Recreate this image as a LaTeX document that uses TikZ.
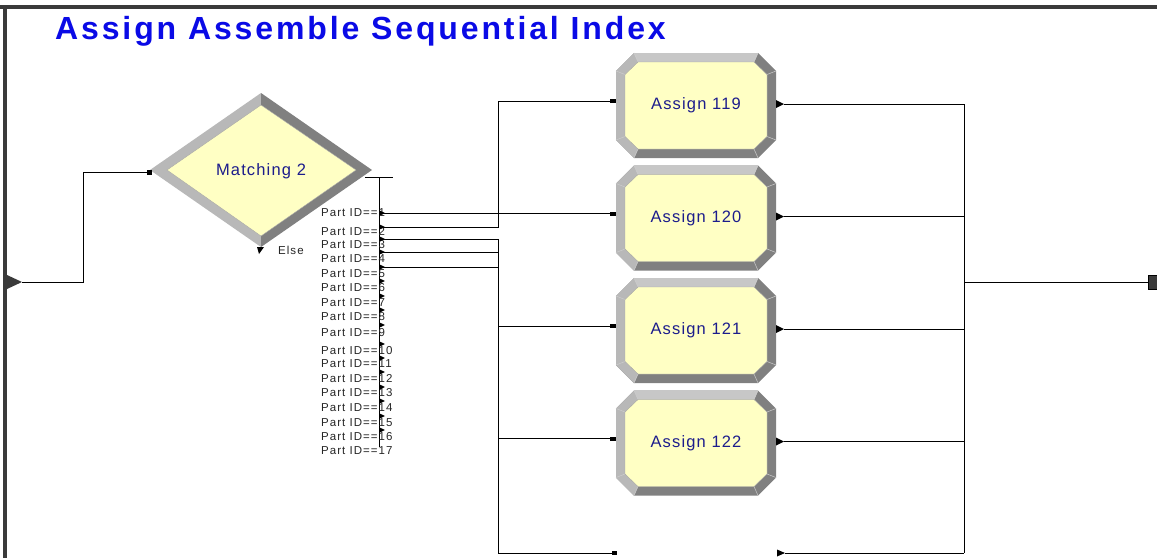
\documentclass[tikz,border=0pt]{standalone}
\usepackage{fontspec}
\setmainfont{Liberation Sans}
\newfontfamily\labfont[LetterSpace=9]{Liberation Sans}
\newfontfamily\boxfont[LetterSpace=7]{Liberation Sans}
\newfontfamily\titfont[LetterSpace=9]{Liberation Sans}
\definecolor{ltgray}{HTML}{B8B8B8}
\definecolor{dkgray}{HTML}{808080}
\definecolor{boxyellow}{HTML}{FFFFC4}
\definecolor{textnavy}{HTML}{1C1C8C}
\definecolor{titleblue}{HTML}{0A0AE6}
\definecolor{framegray}{HTML}{3A3A3A}
\tikzset{
  conn/.style={draw=black, line width=0.8pt},
  seam/.style={draw=ltgray!70!white, line width=0.5pt},
  boxtext/.style={text=textnavy, font=\boxfont\fontsize{16.5}{18}\selectfont, inner sep=0pt},
  idlab/.style={anchor=west, text=black!85, font=\labfont\fontsize{11.5}{12}\selectfont, inner sep=0pt},
  titletext/.style={anchor=base west, text=titleblue, font=\titfont\bfseries\fontsize{32}{34}\selectfont, inner sep=0pt},
  tick/.style={fill=black},
  assignbox/.pic={
    \fill[dkgray] (-80,-34.5) -- (-62,-52.5) -- (62,-52.5) -- (80,-34.5) -- (80,34.5) -- (62,52.5) -- (-62,52.5) -- (-80,34.5) -- cycle;
    \fill[ltgray] (-62,52.5) -- (-80,34.5) -- (-80,-34.5) -- (-62,-52.5) -- (62,-52.5) -- (58,-43.5) -- (-58,-43.5) -- (-71,-31) -- (-71,31) -- (-58,43.5) -- cycle;
    \fill[black!22] (-62,-52.5) -- (62,-52.5) -- (58,-43.5) -- (-58,-43.5) -- cycle;
    \path[seam] (-80,-34.5) -- (-71,-31) (-62,-52.5) -- (-58,-43.5) (62,-52.5) -- (58,-43.5) (80,-34.5) -- (71,-31)
      (80,34.5) -- (71,31) (62,52.5) -- (58,43.5) (-62,52.5) -- (-58,43.5) (-80,34.5) -- (-71,31);
    \filldraw[fill=boxyellow, draw=black!35, line width=0.4pt] (-71,-31) -- (-58,-43.5) -- (58,-43.5) -- (71,-31) -- (71,31) -- (58,43.5) -- (-58,43.5) -- (-71,31) -- cycle;
    \node[boxtext] (-t) at (0,0) {#1};
    \fill[black] (-86,-6.5) rectangle (-80,-2.5);
    \fill[black] (80,-5.5) -- (88,-1.5) -- (80,2.5) -- cycle;
    \coordinate (-in) at (-86,-4.5);
    \coordinate (-out) at (88,-1.5);
  }
}
\begin{document}
\begin{tikzpicture}[x=1pt,y=-1pt]
\useasboundingbox (0,0) rectangle (1157,558);
\fill[white] (0,0) rectangle (1157,558);
% frame
\fill[framegray] (0,5) rectangle (1157,8.5);
\fill[framegray] (3,5) rectangle (7,558);

% title
\node[titletext] (title) at (55,39) {Assign Assemble Sequential Index};

% source
\fill[framegray] (7,275) -- (22,282) -- (7,289) -- cycle;
\coordinate (src) at (22,282);

% diamond Matching 2
\fill[ltgray] (150,170) -- (261,93) -- (261,247) -- cycle;
\fill[dkgray] (261,93) -- (372,170) -- (261,247) -- cycle;
\filldraw[fill=boxyellow, draw=black!35, line width=0.4pt] (167,170) -- (261,105) -- (356,170) -- (261,236) -- cycle;
\node[boxtext] (m2) at (261,171) {Matching 2};
\coordinate (m2in) at (150,172);
\fill[black] (147,170) rectangle (152,174.5);
\fill[black] (257,247) -- (264,247) -- (259,254) -- cycle;
\node[idlab] (else) at (278,250) {Else};

\draw[conn] (src) -- (83,282) |- (m2in);

% decide exit bar
\coordinate (dtop) at (379,177);
\coordinate (dbot) at (379,447);
\draw[conn] (365,177) -- (393,177);
\draw[conn] (dtop) -- (dbot);

% Part ID labels
\foreach \i/\y in {1/213,2/232,3/245,4/259,5/274,6/288,7/303,8/317,9/333,10/351,11/364,12/379,13/393,14/408,15/423,16/437,17/451}{
  \node[idlab] (id\i) at (321,\y) {Part ID==\i};
}
\foreach \y in {213,227,239,252,267,281,296,310,325,344,358,372,387,401,416,430}{
  \fill[tick] (379,\y-2.8) -- (385,\y) -- (379,\y+2.8) -- cycle;
}
\coordinate (o1) at (381,213);
\coordinate (o2) at (381,227);
\coordinate (o3) at (381,239);
\coordinate (o4) at (381,252);
\coordinate (o5) at (381,267);

% assign boxes
\pic (a119) at (696,105.5) {assignbox=Assign 119};
\pic (a120) at (696,218) {assignbox=Assign 120};
\pic (a121) at (696,330.5) {assignbox=Assign 121};
\pic (a122) at (696,443) {assignbox=Assign 122};

% bottom (off-page) module ports
\fill[black] (612,551) rectangle (617,555);
\coordinate (e5in) at (612,553);
\fill[black] (777,549.5) -- (785,553) -- (777,556.5) -- cycle;
\coordinate (e5out) at (785,553);

% left bus
\coordinate (bus) at (498,239);
\coordinate (busbot) at (498,553);
\draw[conn] (o1) -- (o1 -| a120-in);
\draw[conn] (o2) -- (498,227) |- (a119-in);
\draw[conn] (o3) -- (o3 -| bus);
\draw[conn] (o4) -- (o4 -| bus);
\draw[conn] (o5) -- (o5 -| bus);
\draw[conn] (bus) -- (busbot);
\draw[conn] (bus |- a121-in) -- (a121-in);
\draw[conn] (bus |- a122-in) -- (a122-in);
\draw[conn] (busbot) -- (e5in);

% right merge
\coordinate (mx) at (964,104);
\coordinate (mxbot) at (964,553);
\coordinate (sink) at (1148,282);
\draw[conn] (a119-out) -- (a119-out -| mx);
\draw[conn] (a120-out) -- (a120-out -| mx);
\draw[conn] (a121-out) -- (a121-out -| mx);
\draw[conn] (a122-out) -- (a122-out -| mx);
\draw[conn] (e5out) -- (mxbot);
\draw[conn] (a119-out -| mx) -- (mxbot);
\draw[conn] (mx |- sink) -- (sink);
\filldraw[fill=framegray, draw=black, line width=0.5pt] (1148,275) rectangle (1158,289);
\end{tikzpicture}
\end{document}
